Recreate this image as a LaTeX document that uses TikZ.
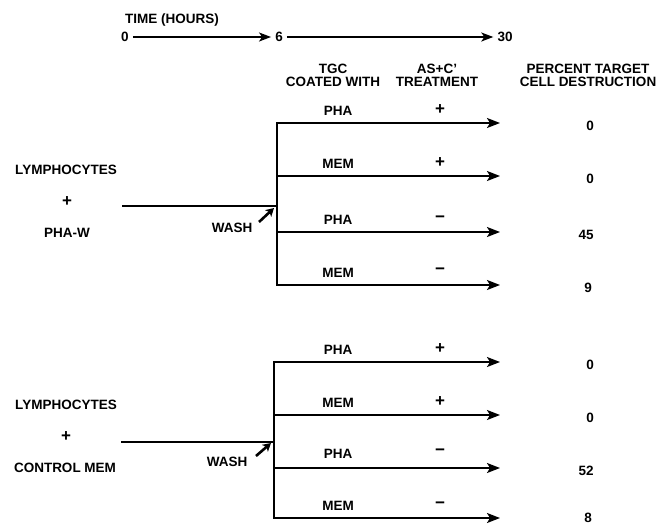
\documentclass[tikz,border=0pt]{standalone}
\usepackage{fontspec}
\setmainfont{Liberation Sans}
\usetikzlibrary{arrows.meta}
\begin{document}
\begin{tikzpicture}[x=1pt,y=-1pt,
  txt/.style={font=\fontsize{13.5}{13}\selectfont\bfseries, inner sep=0pt, align=center},
  sgn/.style={font=\fontsize{17}{17}\selectfont\bfseries, inner sep=0pt},
  ttxt/.style={txt, inner sep=4pt},
  ln/.style={line width=1.8pt, line cap=rect},
  arr/.style={line width=1.8pt, -{Stealth[length=13pt,width=10pt,inset=3pt]}},
  tarr/.style={line width=1.5pt, -{Stealth[length=12pt,width=9pt,inset=3pt]}},
  washarr/.style={line width=2.6pt, -{Stealth[length=8pt,width=9pt,inset=2pt]}}]
\useasboundingbox (0,0) rectangle (660,525);

% time axis
\node[txt] (time) at (172,20) {TIME (HOURS)};
\node[ttxt] (t0) at (125,37) {0};
\node[ttxt] (t6) at (279,37) {6};
\node[ttxt] (t30) at (505,37) {30};
\draw[tarr] (t0) -- (t6);
\draw[tarr] (t6) -- (t30);

% headers
\node[txt] (h1) at (333,75) {TGC\\COATED WITH};
\node[txt] (h2) at (437,75) {AS+C'\\TREATMENT};
\node[txt] (h3) at (588,75) {PERCENT TARGET\\CELL DESTRUCTION};

% ---------- group 1 ----------
\node[txt] (g1a) at (66,170) {LYMPHOCYTES};
\node[sgn] (g1b) at (67,202) {+};
\node[txt] (g1c) at (67,233) {PHA-W};
\coordinate (in1) at (123,206);
\coordinate (j1) at (277,206);
\draw[ln] (in1) -- (j1);
\node[txt] (wash1) at (232,228) {WASH};
\coordinate (w1s) at (259,222);
\coordinate (w1e) at (274,208);
\draw[washarr] (w1s) -- (w1e);

\coordinate (b1a) at (277,123);
\coordinate (b1b) at (277,176);
\coordinate (b1c) at (277,232);
\coordinate (b1d) at (277,285);
\coordinate (e1a) at (500,123);
\coordinate (e1b) at (500,176);
\coordinate (e1c) at (500,232);
\coordinate (e1d) at (500,285);
\draw[ln] (b1a) -- (b1d);
\draw[arr] (b1a) -- (e1a);
\draw[arr] (b1b) -- (e1b);
\draw[arr] (b1c) -- (e1c);
\draw[arr] (b1d) -- (e1d);

\node[txt] (l1a) at (338,111) {PHA};
\node[sgn] (s1a) at (440,110) {+};
\node[txt] (l1b) at (338,164) {MEM};
\node[sgn] (s1b) at (440,163) {+};
\node[txt] (l1c) at (338,220) {PHA};
\node[sgn] (s1c) at (440,219) {−};
\node[txt] (l1d) at (338,273) {MEM};
\node[sgn] (s1d) at (440,271) {−};

\node[txt] (n1a) at (590,126) {0};
\node[txt] (n1b) at (590,179) {0};
\node[txt] (n1c) at (586,235) {45};
\node[txt] (n1d) at (588,288) {9};

% ---------- group 2 ----------
\node[txt] (g2a) at (66,405) {LYMPHOCYTES};
\node[sgn] (g2b) at (66,437) {+};
\node[txt] (g2c) at (65,468) {CONTROL MEM};
\coordinate (in2) at (122,442);
\coordinate (j2) at (274,442);
\draw[ln] (in2) -- (j2);
\node[txt] (wash2) at (227,462) {WASH};
\coordinate (w2s) at (256,456);
\coordinate (w2e) at (271,443);
\draw[washarr] (w2s) -- (w2e);

\coordinate (b2a) at (274,362);
\coordinate (b2b) at (274,415);
\coordinate (b2c) at (274,468);
\coordinate (b2d) at (274,518);
\coordinate (e2a) at (500,362);
\coordinate (e2b) at (500,415);
\coordinate (e2c) at (500,468);
\coordinate (e2d) at (500,518);
\draw[ln] (b2a) -- (b2d);
\draw[arr] (b2a) -- (e2a);
\draw[arr] (b2b) -- (e2b);
\draw[arr] (b2c) -- (e2c);
\draw[arr] (b2d) -- (e2d);

\node[txt] (l2a) at (338,350) {PHA};
\node[sgn] (s2a) at (440,349) {+};
\node[txt] (l2b) at (338,403) {MEM};
\node[sgn] (s2b) at (440,402) {+};
\node[txt] (l2c) at (338,454) {PHA};
\node[sgn] (s2c) at (440,452) {−};
\node[txt] (l2d) at (338,506) {MEM};
\node[sgn] (s2d) at (440,505) {−};

\node[txt] (n2a) at (590,365) {0};
\node[txt] (n2b) at (590,418) {0};
\node[txt] (n2c) at (586,471) {52};
\node[txt] (n2d) at (588,518) {8};
\end{tikzpicture}
\end{document}
